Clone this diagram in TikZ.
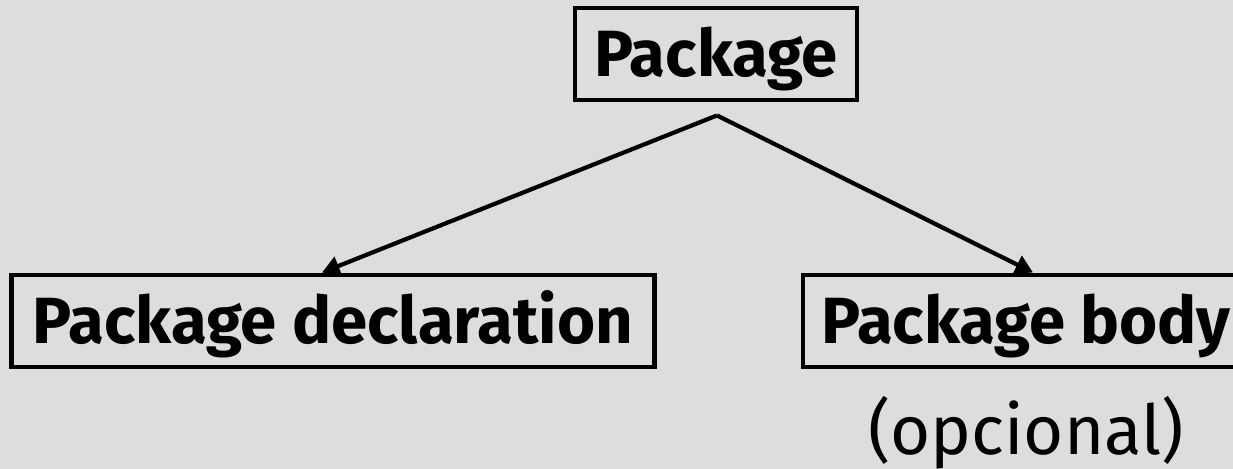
\documentclass[tikz,border=0pt]{standalone}
\usepackage{fontspec}
\setmainfont{Fira Sans}
\usetikzlibrary{calc,arrows.meta}
\definecolor{bggray}{RGB}{221,221,221}
\tikzset {>={Triangle[length=5pt,width=5.5pt]}}
\tikzset{box/.style={draw,line width=1.4pt,minimum height=0.92cm,
    inner sep=0pt,text height=13pt,text depth=0pt,
    font=\fontsize{18.6}{22}\selectfont\bfseries},
  link/.style={line width=1.2pt,->}}

\begin{document}
\begin{tikzpicture}
\fill[bggray] (0,0) rectangle (12.33,4.69);
\useasboundingbox (0,0) rectangle (12.33,4.69);
\node (pkg) [box,minimum width=2.82cm] at (7.16,4.15) {Package};
\node (decl) [box,minimum width=6.43cm] at (3.33,1.48) {Package declaration};
\node (body) [box,minimum width=4.46cm] at (10.26,1.48) {Package body};
\node (opt) [font=\fontsize{19.6}{24}\selectfont] at (10.26,0.36) {(opcional)};
\coordinate (apex) at ($(pkg.south)+(0.01,-0.13)$);
\draw[link] (apex) -- ($(decl.north)+(-0.11,0)$);
\draw[link] (apex) -- ($(body.north)+(0.07,0)$);
\end{tikzpicture}
\end{document}
